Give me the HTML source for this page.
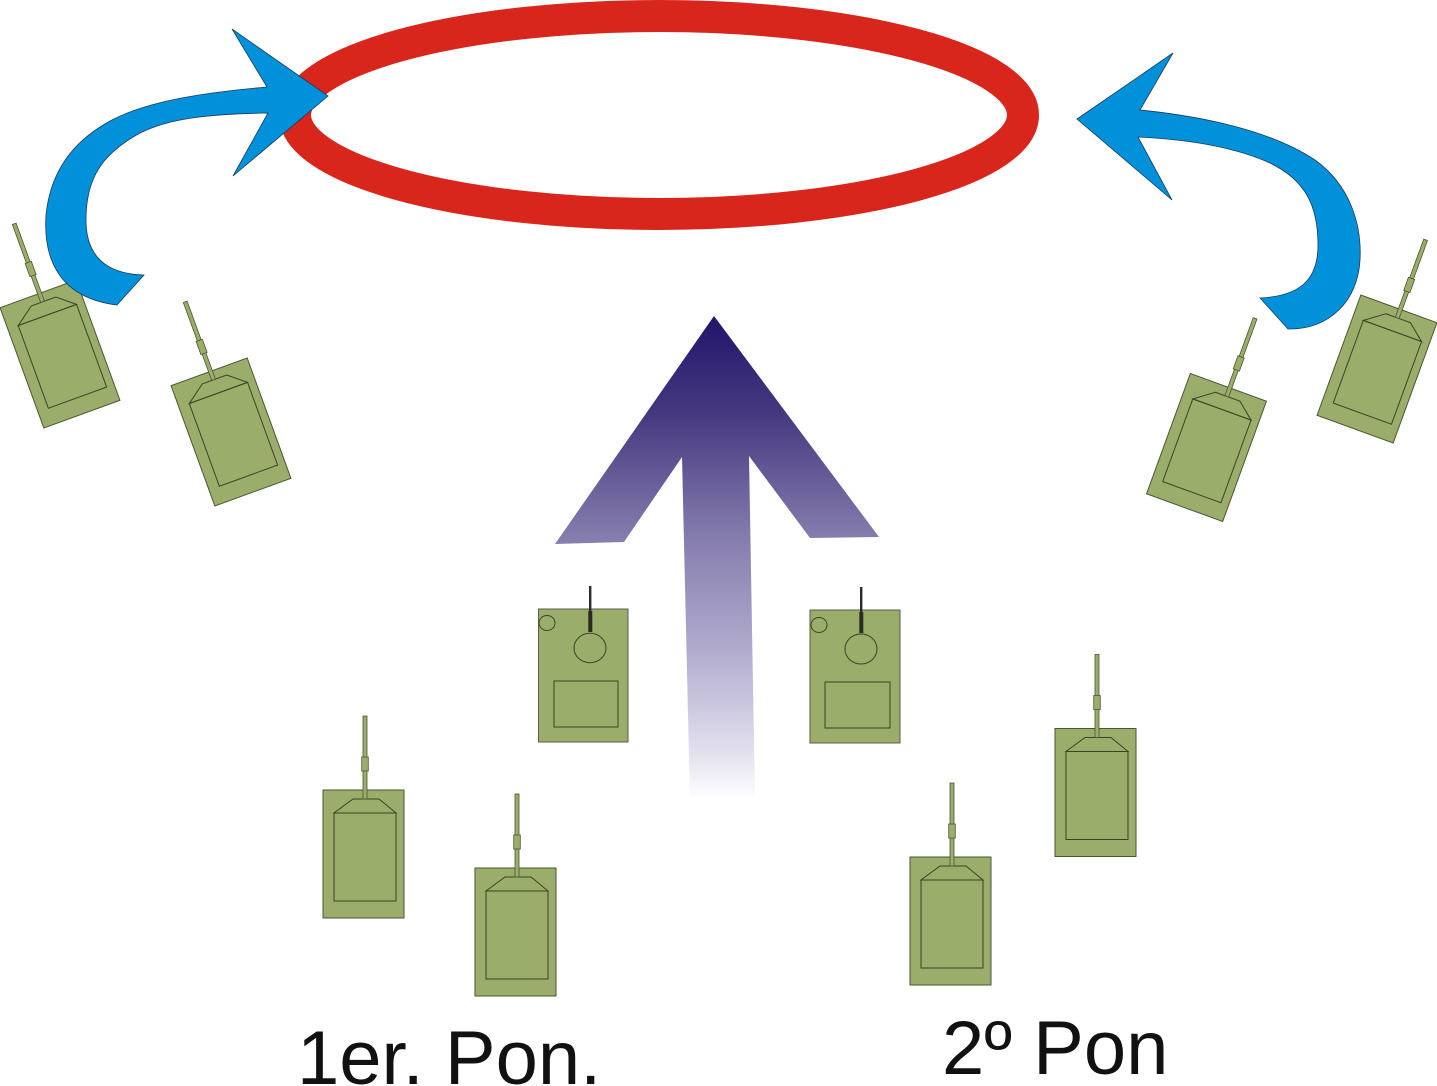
<!DOCTYPE html>
<html>
<head>
<meta charset="utf-8">
<style>
html,body{margin:0;padding:0;background:#fff;}
svg{display:block;}
</style>
</head>
<body>
<svg width="1437" height="1086" viewBox="0 0 1437 1086" xmlns="http://www.w3.org/2000/svg">
<defs>
  <linearGradient id="pg" gradientUnits="userSpaceOnUse" x1="0" y1="316" x2="0" y2="800">
    <stop offset="0" stop-color="#22146a"/>
    <stop offset="0.2" stop-color="#45387f"/>
    <stop offset="0.46" stop-color="#867dae"/>
    <stop offset="0.7" stop-color="#b3adcf"/>
    <stop offset="0.9" stop-color="#e2e0ee"/>
    <stop offset="1" stop-color="#ffffff"/>
  </linearGradient>
  <g id="tank">
    <rect x="-40.5" y="-64" width="81" height="128" fill="#9bad6a" stroke="#4a5632" stroke-width="1"/>
    <polygon points="-10.5,-55 15.5,-55 32.5,-41 -29.5,-41" fill="none" stroke="#3a4424" stroke-width="1"/>
    <rect x="-29.5" y="-41" width="62" height="88" fill="none" stroke="#3a4424" stroke-width="1"/>
    <rect x="-0.5" y="-138" width="4" height="83" fill="#9bad6a" stroke="#4a5632" stroke-width="0.8"/>
    <rect x="-1.8" y="-97" width="6.6" height="14" fill="#9bad6a" stroke="#4a5632" stroke-width="0.8"/>
  </g>
</defs>

<!-- rotated tanks -->
<use href="#tank" transform="translate(60,354) rotate(-20)"/>
<use href="#tank" transform="translate(231,432) rotate(-20)"/>
<use href="#tank" transform="translate(1206.5,447.5) rotate(20)"/>
<use href="#tank" transform="translate(1377,369) rotate(20)"/>

<!-- upright tanks -->
<use href="#tank" transform="translate(363.5,854)"/>
<use href="#tank" transform="translate(515.5,932)"/>
<use href="#tank" transform="translate(950.5,921)"/>
<use href="#tank" transform="translate(1095.5,792.5)"/>

<!-- middle tanks -->
<g stroke="#3a4424" stroke-width="1">
  <rect x="538.5" y="609" width="89.5" height="133" fill="#9bad6a" stroke="#5a5e4a"/>
  <ellipse cx="547" cy="623" rx="8" ry="7.5" fill="none"/>
  <ellipse cx="590" cy="648" rx="16" ry="14.7" fill="none"/>
  <rect x="554" y="681" width="64" height="46" fill="none"/>
  <rect x="810" y="610" width="90" height="133" fill="#9bad6a" stroke="#5a5e4a"/>
  <ellipse cx="819" cy="625" rx="8" ry="7.5" fill="none"/>
  <ellipse cx="861" cy="649" rx="16" ry="15" fill="none"/>
  <rect x="825" y="682" width="65" height="46" fill="none"/>
</g>
<g fill="#2b2b26">
  <rect x="589" y="586" width="2.4" height="26"/>
  <rect x="588.3" y="611" width="4" height="21"/>
  <rect x="860" y="587" width="2.4" height="26"/>
  <rect x="859.3" y="612" width="4" height="21"/>
</g>

<!-- purple arrow -->
<path d="M714,316 L879,537 L810,538 L749,456 L755,800 L690,800 L682,457 L624,542 L555,544 Z" fill="url(#pg)"/>

<!-- red ellipse -->
<ellipse cx="659" cy="115" rx="364" ry="99" fill="none" stroke="#d8261d" stroke-width="32"/>

<!-- blue arrows -->
<path d="M328,96 L232,29 L267,87 C210,92 150,100 112,120 C70,142 50,175 46,215 C43,260 60,298 117,305 L144,275 C105,274 86,255 86,220 C86,180 100,155 140,133 C170,118 210,114 268,113 L233,176 Z" fill="#0091da" stroke="#1d3b57" stroke-width="0.8" stroke-linejoin="miter"/>
<path d="M1077,119 L1173,53 L1140,110 C1200,116 1270,130 1315,160 C1350,185 1362,225 1360,260 C1358,300 1330,330 1288,329 L1260,298 C1300,296 1318,280 1318,245 C1318,205 1305,180 1270,163 C1230,145 1180,139 1138,137 L1172,200 Z" fill="#0091da" stroke="#1d3b57" stroke-width="0.8" stroke-linejoin="miter"/>

<!-- labels -->
<text x="297" y="1084" font-family="Liberation Sans, Arial, sans-serif" font-size="76" fill="#111111">1er. Pon.</text>
<text x="942" y="1074" font-family="Liberation Sans, Arial, sans-serif" font-size="76" fill="#111111">2º Pon</text>
</svg>
</body>
</html>
